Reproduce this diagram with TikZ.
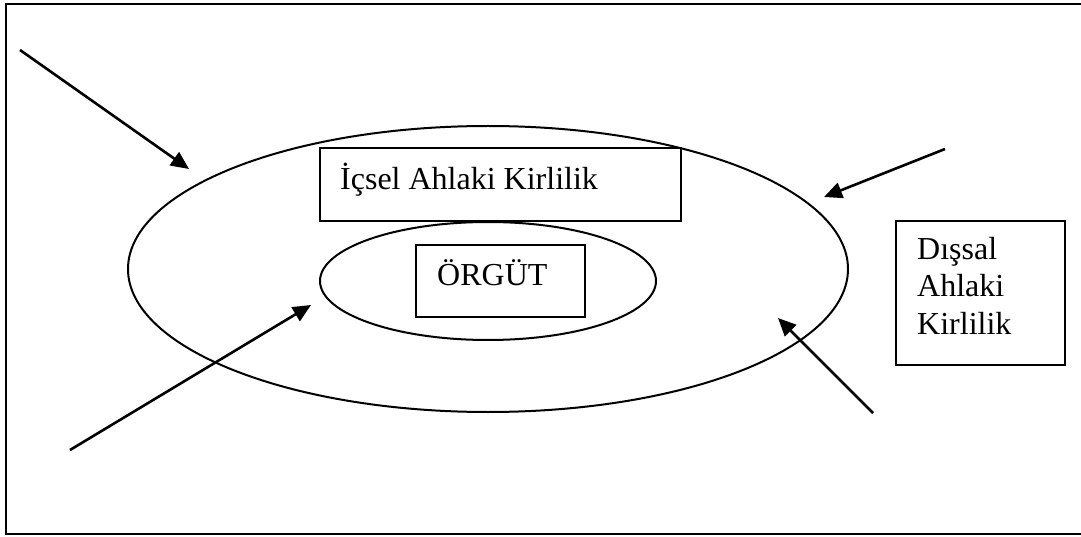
\documentclass[tikz,border=0pt]{standalone}
\usepackage{fontspec}
\setmainfont{Liberation Serif}
\usetikzlibrary{arrows.meta,shapes.geometric}

\tikzset{
  frameline/.style={line width=2.6pt, line cap=rect},
  ring/.style={draw, ellipse, line width=2pt, inner sep=0pt},
  box/.style={draw, rectangle, line width=1.6pt, inner sep=0pt},
  txt/.style={inner sep=0pt, font=\fontsize{32}{37}\selectfont},
  arr/.style={line width=2.6pt, -{Triangle[length=18pt,width=16pt]}}
}

\begin{document}
\begin{tikzpicture}[x=1pt,y=-1pt]
  \useasboundingbox (0,0) rectangle (1081,537);

  % outer frame (open on the right)
  \draw[frameline] (1085,4) -- (6,4) -- (6,534) -- (1085,534);

  % nested rings
  \node[ring, minimum width=720pt, minimum height=286pt] (outer) at (488,269) {};
  \node[ring, minimum width=336pt, minimum height=118pt] (inner) at (488,281) {};

  % boxes
  \node[box, fill=white, minimum width=361pt, minimum height=73pt] (icbox) at (500.5,184.5) {};
  \node[txt, anchor=base west] (ictext) at (340,190) {İçsel Ahlaki Kirlilik};

  \node[box, minimum width=169pt, minimum height=72pt] (orgbox) at (500.5,281) {};
  \node[txt, anchor=base west] (orgtext) at (437,286) {ÖRGÜT};

  \node[box, minimum width=169pt, minimum height=144pt] (disbox) at (980.5,293) {};
  % base anchor of a multi-line node sits on its last line
  \node[txt, anchor=base west, align=left] (distext) at (917,334) {Dışsal\\Ahlaki\\Kirlilik};

  % arrow ends
  \coordinate (a1s) at (20,50);
  \coordinate (a1e) at (189,169);
  \coordinate (a2s) at (945,149);
  \coordinate (a2e) at (824,197);
  \coordinate (a3s) at (70,450);
  \coordinate (a3e) at (311,305);
  \coordinate (a4s) at (873,413);
  \coordinate (a4e) at (778,318);

  \draw[arr] (a1s) -- (a1e);
  \draw[arr] (a2s) -- (a2e);
  \draw[arr] (a3s) -- (a3e);
  \draw[arr] (a4s) -- (a4e);
\end{tikzpicture}
\end{document}
